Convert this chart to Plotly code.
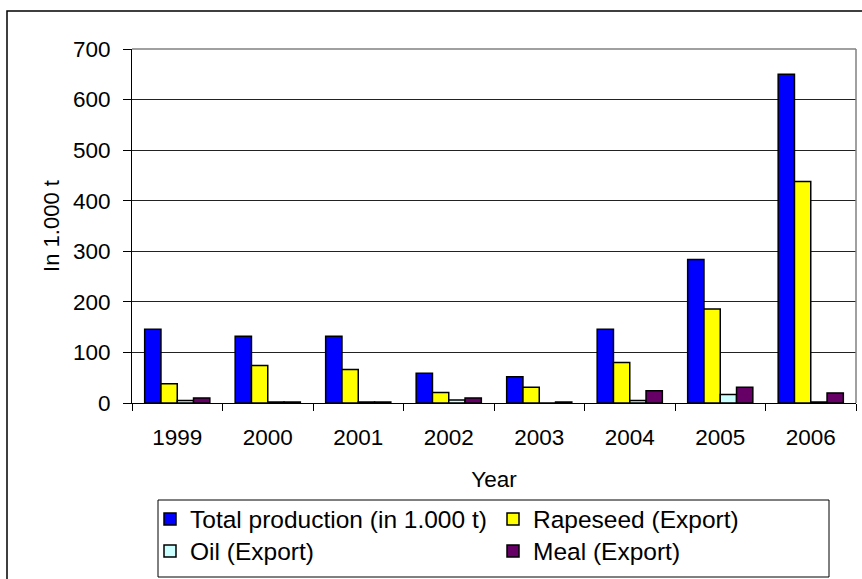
import plotly.graph_objects as go

# Rapeseed sector: production and exports, in 1.000 t
years = ["1999", "2000", "2001", "2002", "2003", "2004", "2005", "2006"]
total_production = [146, 132, 132, 59, 52, 146, 284, 650]
rapeseed_export = [38, 74, 66, 21, 31, 80, 186, 438]
oil_export = [5, 2, 2, 6, 0, 5, 17, 2]
meal_export = [10, 2, 2, 10, 2, 24, 31, 20]

series = [
    ("Total production (in 1.000 t)", total_production, "#0000FF", "legend"),
    ("Rapeseed (Export)", rapeseed_export, "#FFFF00", "legend2"),
    ("Oil (Export)", oil_export, "#CCFFFF", "legend3"),
    ("Meal (Export)", meal_export, "#660066", "legend4"),
]

FONT = "Liberation Sans, Arial, sans-serif"
W, H = 862, 579
L, R, T, B = 132, 6, 49, 176
pw, ph = W - L - R, H - T - B


def px_x(x):
    return (x - L) / pw


def px_y(y):
    return (H - B - y) / ph


fig = go.Figure()
for name, vals, color, leg in series:
    fig.add_trace(go.Bar(
        x=years, y=vals, name=name, legend=leg,
        marker=dict(color=color, line=dict(color="black", width=1.5)),
    ))

legend_common = dict(
    font=dict(family=FONT, size=24.5, color="black"),
    bgcolor="rgba(0,0,0,0)", borderwidth=0,
    xanchor="left", yanchor="middle", orientation="v",
)
col1, col2 = px_x(150), px_x(493)
row1, row2 = px_y(519), px_y(551)

fig.update_layout(
    width=W, height=H,
    margin=dict(l=L, r=R, t=T, b=B, autoexpand=False),
    paper_bgcolor="white", plot_bgcolor="white",
    barmode="group", bargap=0.28, bargroupgap=0,
    font=dict(family=FONT, size=22, color="black"),
    showlegend=True,
    legend=dict(x=col1, y=row1, **legend_common),
    legend2=dict(x=col2, y=row1, **legend_common),
    legend3=dict(x=col1, y=row2, **legend_common),
    legend4=dict(x=col2, y=row2, **legend_common),
    xaxis=dict(
        type="category", tickson="boundaries",
        ticks="outside", ticklen=7, tickwidth=1, tickcolor="black",
        showline=True, linecolor="black", linewidth=1,
        showgrid=False, ticklabelstandoff=14,
        tickfont=dict(family=FONT, size=22.5, color="black"),
        title=dict(text="Year", standoff=22,
                   font=dict(family=FONT, size=22.5, color="black")),
    ),
    yaxis=dict(
        range=[0, 700], dtick=100, tick0=0,
        ticks="outside", ticklen=8, tickwidth=1, tickcolor="black",
        showline=True, linecolor="black", linewidth=1,
        showgrid=True, gridcolor="#222222", gridwidth=1,
        zeroline=False, ticklabelstandoff=8,
        tickfont=dict(family=FONT, size=22.5, color="black"),
        title=dict(text="In 1.000 t", standoff=7,
                   font=dict(family=FONT, size=22, color="black")),
    ),
    shapes=[
        # plot-area frame: top and right edges in grey
        dict(type="line", xref="paper", yref="paper", x0=0, x1=1, y0=1, y1=1,
             line=dict(color="#808080", width=1.5), layer="above"),
        dict(type="line", xref="paper", yref="paper", x0=1, x1=1, y0=0, y1=1,
             line=dict(color="#808080", width=1.5), layer="above"),
        # legend box
        dict(type="rect", xref="paper", yref="paper",
             x0=px_x(158), x1=px_x(829), y0=px_y(577), y1=px_y(500),
             line=dict(color="black", width=1)),
        # chart-area border
        dict(type="rect", xref="paper", yref="paper",
             x0=px_x(7), x1=px_x(W + 20), y0=px_y(H + 20), y1=px_y(11),
             line=dict(color="black", width=1.5)),
    ],
)

fig.write_html("out.html")
